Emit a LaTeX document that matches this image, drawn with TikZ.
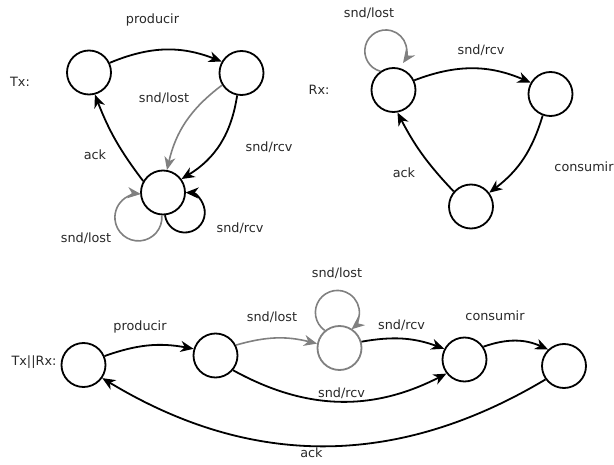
\documentclass[tikz,border=0pt]{standalone}
\usepackage{fontspec}
\setmainfont{DejaVu Sans}
\usetikzlibrary{arrows.meta}
\definecolor{edgegrey}{RGB}{128,128,128}
\definecolor{labelc}{RGB}{40,40,40}
\begin{document}
\begin{tikzpicture}[x=1pt,y=1pt,
  st/.style={circle,draw,line width=1.8pt,minimum size=44pt,inner sep=0pt},
  gst/.style={st,draw=edgegrey},
  tr/.style={line width=1.8pt,-{Stealth[length=13pt,width=11pt,inset=4pt]}},
  gtr/.style={tr,draw=edgegrey,line width=1.6pt},
  lbl/.style={font=\fontsize{12.8}{15}\selectfont,text=labelc,inner sep=0pt}]
\useasboundingbox (0,0) rectangle (614,464);
% ---------- Tx ----------
\node[st] (A) at (89,391.5) {};
\node[st] (B) at (241.5,391) {};
\node[st] (C) at (163,271.5) {};
\node[lbl] (txl) at (20,382) {Tx:};
\node[lbl] (l1) at (152.5,444) {producir};
\node[lbl] (l2) at (164,366) {snd/lost};
\node[lbl] (l3) at (269,317) {snd/rcv};
\node[lbl] (l4) at (95,309) {ack};
\node[lbl] (l5) at (86,226) {snd/lost};
\node[lbl] (l6) at (240,236) {snd/rcv};
\draw[tr] (A.25) to[bend left=22] (B.150);
\draw[tr] (B.259) to[bend left=25] (C.36);
\draw[gtr] (B.212) to[bend right=20] (C.80);
\draw[tr] (C.150) to[bend left=8] (A.285);
\draw[gtr] (C.267) arc[start angle=5, end angle=-276, radius=23.5];
\draw[tr] (C.275) arc[start angle=188, end angle=448, radius=20];
% ---------- Rx ----------
\node[st] (D) at (393.5,374) {};
\node[st] (E) at (550.5,370) {};
\node[st] (F) at (471,257.5) {};
\node[lbl] (rxl) at (319,374) {Rx:};
\node[lbl] (m1) at (369,451) {snd/lost};
\node[lbl] (m2) at (481,414) {snd/rcv};
\node[lbl] (m3) at (584,297) {consumir};
\node[lbl] (m4) at (404,291) {ack};
\draw[tr] (D.25) to[bend left=22] (E.150);
\draw[tr] (E.250) to[bend left=18] (F.37);
\draw[tr] (F.139) to[bend left=8] (D.280);
\draw[gtr] (D.125) arc[start angle=255, end angle=-35, radius=21];
% ---------- Tx||Rx ----------
\node[st] (N1) at (83.5,99) {};
\node[st] (N2) at (215.5,108.5) {};
\node[gst] (N3) at (339.5,116) {};
\node[st] (N4) at (464.5,104.5) {};
\node[st] (N5) at (564,98) {};
\node[lbl] (pl) at (34,102) {Tx||Rx:};
\node[lbl] (n1) at (140,137) {producir};
\node[lbl] (n2) at (272,147) {snd/lost};
\node[lbl] (n3) at (337,191) {snd/lost};
\node[lbl] (n4) at (401.5,139) {snd/rcv};
\node[lbl] (n5) at (495,148) {consumir};
\node[lbl] (n6) at (341.5,71) {snd/rcv};
\node[lbl] (n7) at (311.5,11) {ack};
\draw[tr] (N1.23) to[bend left=15] (N2.163);
\draw[gtr] (N2.27) to[bend left=15] (N3.169);
\draw[tr] (N3.16) to[bend left=15] (N4.152);
\draw[tr] (N2.320) to[bend right=28] (N4.218);
\draw[tr] (N4.34) to[bend left=22] (N5.134);
\draw[tr] (N5.216) to[bend left=31] (N1.325);
\draw[gtr] (N3.130) arc[start angle=235, end angle=-50, radius=22];
\end{tikzpicture}
\end{document}
